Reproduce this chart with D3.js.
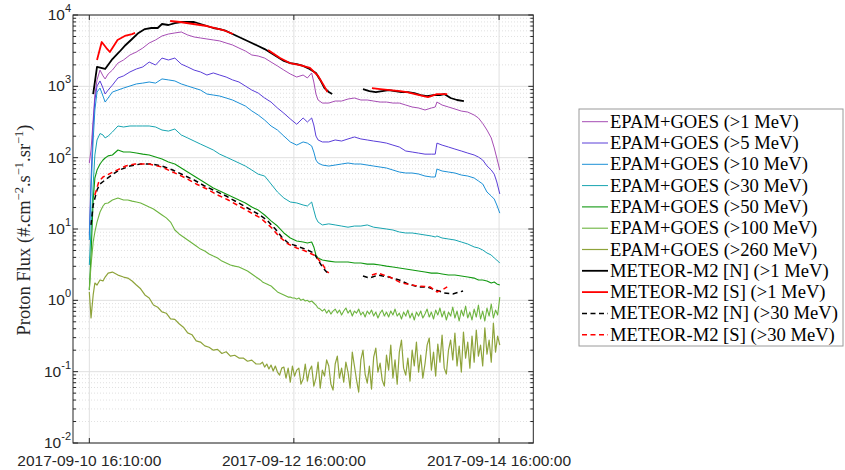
<!DOCTYPE html>
<html><head><meta charset="utf-8">
<script src="https://cdn.jsdelivr.net/npm/d3@7"></script>
<style>
body{margin:0;background:#fff;}
svg{display:block;}
</style></head><body>
<svg id="chart" width="845" height="470"></svg>
<script>
// ---------------- DATA (hours after 2017-09-10 16:10:00) ----------------
const hoursMain = [0,0.4,0.9,1.3,1.8,2.5,3.2,3.7,4.4,5.4,6.7,8,9.5,11,12.5,14,15.5,17,18.5,20,21.5,23,24.5,26,27.5,29,30.5,32,33.5,35,36.5,38,39.5,41,42.5,44,45.5,47,48.5,50,51,52,52.5,53,53.5,54.5,56,57.5,59,60.5,62,63.5,65,66.5,68,69.5,71,72.5,74,75.5,77,78.5,80,80.9,81.3,82.5,84,85.5,87,88.5,90,91,92,93,94,94.7,95.3,96];

const flux1MeV = [84,128,337,755,1230,1690,1400,1270,1490,1690,2120,2340,2750,3030,3440,4050,4470,5080,5410,5600,5780,5250,4920,4760,4610,4470,4330,4050,3800,3440,3130,2750,2660,2490,2190,1930,1690,1490,1350,1440,1310,1540,1150,780,643,583,583,622,622,664,686,643,643,622,602,602,583,583,547,513,497,466,497,513,602,547,513,481,450,436,396,360,302,244,189,137,99,67];

const flux5MeV = [8.24,48.6,287,643,1010,1190,946,780,887,1040,1310,1400,1590,1750,1870,2190,1990,2490,2340,2490,2050,1870,1690,1590,1440,1540,1440,1350,1230,1150,1010,887,805,686,602,497,420,349,294,360,316,360,287,201,177,166,166,177,171,183,195,183,177,171,166,160,150,141,124,120,116,112,112,112,160,150,141,132,124,116,109,102,92.7,76.6,67.1,58.7,45.6,31.0];

const flux10MeV = [7.01,35.2,177,466,832,946,731,602,686,832,887,946,1010,1080,1110,1150,1110,1270,1230,1190,1080,1010,946,887,780,755,731,686,643,583,530,452,396,337,278,244,201,166,150,166,160,146,120,92.7,84.1,78.8,76.3,78.8,81.5,84.1,81.5,81.5,78.8,76.3,73.9,71.6,67.1,62.9,60.9,60.9,59.0,55.3,53.6,53.6,69.3,65.0,62.9,60.9,57.1,55.3,51.9,47.1,42.8,33.0,29.0,26.3,21.7,16.7];

const flux30MeV = [3.13,9.68,41.4,109,177,218,208,189,201,229,278,269,278,278,278,278,269,244,236,252,208,189,171,155,141,128,112,102,92.7,84.1,76.3,67.1,58.7,55.3,42.8,33.0,27.2,23.9,23.2,21.7,21.0,23.9,18.4,14.3,12.5,11.4,11.8,11.4,11.0,10.6,11.0,11.0,11.4,10.6,10.3,10.0,9.68,9.08,8.79,8.79,8.52,8.24,7.98,7.73,7.98,7.48,7.24,7.01,6.57,6.16,5.60,5.42,5.08,4.61,4.32,3.92,3.67,3.33];

const flux50MeV = [1.40,4.32,25.5,51.9,67.1,81.5,92.7,98.9,106,109,128,120,120,116,112,109,102,95.9,86.9,81.5,71.6,62.9,55.3,48.6,42.8,37.6,34.1,31.0,28.2,25.5,23.2,20.3,18.4,15.7,13.0,11.0,8.79,7.48,6.79,6.57,6.36,6.57,5.60,4.32,3.92,3.67,3.55,3.44,3.44,3.44,3.33,3.33,3.22,3.22,3.13,3.02,2.93,2.84,2.75,2.66,2.58,2.49,2.41,2.41,2.41,2.34,2.26,2.26,2.19,2.12,2.05,1.93,1.93,1.87,1.75,1.81,1.70,1.64];

const hoursFine = [0,0.4,0.9,1.3,1.8,2.5,3.2,3.7,4.4,5.4,6.7,8,9,10,11,12,13,14,15,16,17,18,19,20,21,22,23,24,25,26,27,28,29,30,31,32,33,34,35,36,37,38,39,
40,40.5,41,41.5,42,42.5,43,43.5,44,44.5,45,45.5,46,46.5,47,47.5,48,48.5,49,49.5,50,50.5,51,51.5,52,52.5,53,53.5,54,54.5,55,55.5,56,56.5,57,57.5,58,58.5,59,59.5,60,60.5,61,61.5,62,62.5,63,63.5,64,64.5,65,65.5,66,66.5,67,67.5,68,68.5,69,69.5,70,70.5,71,71.5,72,72.5,73,73.5,74,74.5,75,75.5,76,76.5,77,77.5,78,78.5,79,79.5,80,80.5,81,81.5,82,82.5,83,83.5,84,84.5,85,85.5,86,86.5,87,87.5,88,88.5,89,89.5,90,90.5,91,91.5,92,92.5,93,93.5,94,94.5,95,95.5,96];

const flux100MeV = [1.40,3.13,6.57,9.08,12.5,17.3,21.0,22.8,23.2,25.5,27.2,25.5,25.5,24.6,23.9,23.2,21.7,20.3,19.1,17.3,15.7,14.3,12.5,9.68,8.52,7.73,7.01,6.36,5.77,5.23,4.92,4.47,4.17,3.92,3.55,3.33,3.13,3.02,2.93,2.75,2.58,2.34,2.12,
1.93,1.81,1.75,1.70,1.64,1.59,1.49,1.40,1.31,1.27,1.23,1.19,1.15,1.11,1.11,1.08,1.08,1.04,1.08,1.00,1.04,0.978,1.00,0.947,0.978,0.917,0.859,0.780,0.755,0.708,0.755,0.663,0.731,0.642,0.708,0.755,0.663,0.731,0.622,0.708,0.780,0.663,0.731,0.602,0.708,0.663,0.755,0.622,0.685,0.583,0.708,0.642,0.731,0.602,0.685,0.565,0.663,0.731,0.602,0.685,0.583,0.708,0.622,0.755,0.602,0.663,0.547,0.685,0.602,0.731,0.565,0.663,0.530,0.685,0.602,0.708,0.565,0.642,0.755,0.583,0.685,0.547,0.731,0.622,0.780,0.583,0.708,0.530,0.685,0.602,0.805,0.565,0.708,0.513,0.731,0.602,0.832,0.565,0.685,0.530,0.755,0.583,0.859,0.547,0.708,0.513,0.780,0.602,0.888,0.565,0.731,0.622,1.11];

const flux260MeV = [1.31,0.565,1.19,1.75,1.64,1.93,1.87,2.12,2.41,2.49,2.26,2.12,2.05,1.87,1.64,1.45,1.19,1.08,0.86,0.80,0.69,0.66,0.55,0.54,0.47,0.42,0.35,0.33,0.27,0.26,0.23,0.22,0.20,0.205,0.18,0.19,0.165,0.17,0.155,0.155,0.14,0.145,0.128,
0.128,0.136,0.116,0.128,0.109,0.124,0.102,0.120,0.0987,0.0896,0.112,0.116,0.0813,0.112,0.0714,0.120,0.0868,0.105,0.112,0.0669,0.0787,0.128,0.0738,0.105,0.120,0.0628,0.0813,0.136,0.0589,0.105,
0.0868,0.146,0.120,0.0669,0.0552,0.128,0.165,0.0813,0.112,0.0714,0.136,0.0987,0.0589,0.188,0.120,0.0762,0.0518,0.146,0.201,0.0926,0.0691,0.120,0.0570,0.160,0.214,0.0987,0.132,0.0762,0.0628,0.171,0.105,0.236,0.0813,0.146,0.0669,0.188,0.278,0.112,0.0896,0.155,0.0738,0.201,0.120,0.260,0.0987,0.171,0.0813,0.128,0.236,0.296,0.105,0.188,0.0868,0.244,0.136,0.326,0.112,0.0926,0.201,0.278,0.146,0.348,0.120,0.229,0.0987,0.360,0.155,0.260,0.112,0.316,0.136,0.384,0.165,0.236,0.120,0.410,0.176,0.278,0.136,0.481,0.188,0.316,0.236];

// METEOR-M2 (null = data gap)
const hoursN1 = [0.9,1.8,3.7,5.4,7,8.5,10,11.5,13,14.5,16,17,18.5,20,21.5,23,24.5,26,27.5,29,30.5,32,33.5,35,36.5,38,39.5,41,42.5,44,45.5,47,48.5,50,51.5,53,54,55,56,56.8,60,64,65.5,67,68.5,70,71.5,73,74.5,76,77.5,79,80.5,82,83,84.5,86,87.6];
const fluxN1 = [780,1870,1750,2410,3030,3800,4610,5600,6360,6570,6570,7480,7240,7720,7980,7980,7980,7480,7010,6570,6360,5970,5410,4920,4470,4050,3670,3330,2930,2580,2270,2120,2050,1930,1750,1540,1230,946,832,780,null,916,859,832,859,887,859,832,832,805,755,731,755,755,780,686,643,622];

const hoursS1 = [1.8,2.9,4.0,4.8,6.6,8.3,10,10.7,14,18.9,21.2,24.3,27.5,31.3,33.6,38,41.8,44.6,46.9,49.3,51.6,53.5,54.8,55.7,60,66.1,68.0,70.3,72.7,74.3,76.2,79.2,81.3,83.7];
const fluxS1 = [2340,4180,3440,3030,4470,5080,5410,5600,null,8240,7980,7480,7010,6160,5410,null,3230,2490,2120,1990,1810,1400,1040,832,null,946,916,887,859,832,780,708,780,780];

const hoursN30 = [0.4,0.9,1.8,2.5,4,5.5,7,9.5,12,14.5,17,19.5,22,24.5,27,29.5,32,34.5,37,39.5,41.5,43.5,45,46.5,48.5,50.5,52.5,53.5,54.5,55.5,56.5,60,64,65.5,67.5,70,72.5,74.5,77,79,81,83,85,87.4];
const fluxN30 = [11.4,21.7,35.2,42.8,50.2,58.7,67.1,76.3,81.5,81.5,76.3,67.1,57.1,48.6,40.0,34.1,29.0,23.9,19.7,16.2,13.4,10.0,7.73,6.36,5.77,5.23,4.61,3.67,2.93,2.49,2.41,null,2.19,2.05,2.26,2.12,1.93,1.70,1.54,1.54,1.40,1.27,1.23,1.35];

const hoursS30 = [1.3,2.2,3.2,5.5,8.5,10.7,14,17,19.5,22.5,25,27.5,30,32.5,35,37.5,40,42.5,44.5,46.5,48.5,50.5,52.5,53.5,54.5,55.5,56,60,66.1,67.5,70.3,73,76.7,79.7,81.3,82.5,83.7];
const fluxS30 = [30.0,45.6,53.6,62.9,76.3,81.5,81.5,73.9,62.9,51.9,42.8,36.4,30.0,25.5,21.0,17.3,14.3,10.6,7.73,6.16,5.42,4.92,4.32,3.79,3.22,2.58,2.41,null,2.26,2.41,2.12,1.75,1.59,1.54,1.31,1.40,1.54];

const seriesLabels = ["EPAM+GOES (>1 MeV)","EPAM+GOES (>5 MeV)","EPAM+GOES (>10 MeV)","EPAM+GOES (>30 MeV)","EPAM+GOES (>50 MeV)","EPAM+GOES (>100 MeV)","EPAM+GOES (>260 MeV)","METEOR-M2 [N] (>1 MeV)","METEOR-M2 [S] (>1 MeV)","METEOR-M2 [N] (>30 MeV)","METEOR-M2 [S] (>30 MeV)"];
const xTickLabels = ["2017-09-10 16:10:00","2017-09-12 16:00:00","2017-09-14 16:00:00"];
const yTickExponents = [-2,-1,0,1,2,3,4];
const startTime = "2017-09-10 16:10:00";
const xDomain = ["2017-09-10 12:21:00","2017-09-15 00:00:00"];

// ---------------- CHART ----------------
const parse = d3.timeParse("%Y-%m-%d %H:%M:%S");
const t0 = parse(startTime).getTime();
const toDate = h => new Date(t0 + h * 3600e3);

const L = 73, R = 533.3, T = 15, B = 443;
const x = d3.scaleTime().domain(xDomain.map(parse)).range([L, R]);
const y = d3.scaleLog().domain([1e-2, 1e4]).range([B, T]);

const svg = d3.select("#chart");
const axisColor = "#262626";

// grid
const gGrid = svg.append("g");
const minorVals = [];
for (let e = -2; e < 4; e++) for (let k = 2; k <= 9; k++) minorVals.push(k * Math.pow(10, e));
gGrid.selectAll(".minor").data(minorVals).enter().append("line")
  .attr("x1", L).attr("x2", R).attr("y1", d => y(d)).attr("y2", d => y(d))
  .attr("stroke", "#d9d9d9").attr("stroke-width", 0.8).attr("stroke-dasharray", "1,2");
gGrid.selectAll(".major").data(yTickExponents).enter().append("line")
  .attr("x1", L).attr("x2", R).attr("y1", d => y(Math.pow(10, d))).attr("y2", d => y(Math.pow(10, d)))
  .attr("stroke", "#e0e0e0").attr("stroke-width", 1);
gGrid.selectAll(".vmajor").data(xTickLabels).enter().append("line")
  .attr("x1", d => x(parse(d))).attr("x2", d => x(parse(d))).attr("y1", T).attr("y2", B)
  .attr("stroke", "#e0e0e0").attr("stroke-width", 1);

// clip
svg.append("defs").append("clipPath").attr("id", "clip")
  .append("rect").attr("x", L).attr("y", T).attr("width", R - L).attr("height", B - T);

const series = [
  {h: hoursMain, v: flux1MeV, color: "#a64db4", w: 1, dash: null},
  {h: hoursMain, v: flux5MeV, color: "#5a3ed8", w: 1, dash: null},
  {h: hoursMain, v: flux10MeV, color: "#1c90d6", w: 1, dash: null},
  {h: hoursMain, v: flux30MeV, color: "#17a4b0", w: 1, dash: null},
  {h: hoursMain, v: flux50MeV, color: "#109810", w: 1.1, dash: null},
  {h: hoursFine, v: flux100MeV, color: "#6db43f", w: 1.1, dash: null},
  {h: hoursFine, v: flux260MeV, color: "#8ea33a", w: 1.2, dash: null},
  {h: hoursN1, v: fluxN1, color: "#000000", w: 1.8, dash: null},
  {h: hoursS1, v: fluxS1, color: "#ff0000", w: 1.8, dash: null},
  {h: hoursN30, v: fluxN30, color: "#000000", w: 1.5, dash: "5,3.5"},
  {h: hoursS30, v: fluxS30, color: "#ff0000", w: 1.5, dash: "5,3.5"}
];

const line = d3.line().defined(d => d.v != null).x(d => x(toDate(d.h))).y(d => y(d.v));
const gLines = svg.append("g").attr("clip-path", "url(#clip)");
series.forEach(s => {
  const pts = s.h.map((h, i) => ({h: h, v: s.v[i]}));
  gLines.append("path").datum(pts).attr("d", line)
    .attr("fill", "none").attr("stroke", s.color).attr("stroke-width", s.w)
    .attr("stroke-linejoin", "round")
    .attr("stroke-dasharray", s.dash);
});

// box
svg.append("rect").attr("x", L).attr("y", T).attr("width", R - L).attr("height", B - T)
  .attr("fill", "none").attr("stroke", axisColor).attr("stroke-width", 1);

// ticks
const gT = svg.append("g").attr("stroke", axisColor).attr("stroke-width", 1);
yTickExponents.forEach(e => {
  const yy = y(Math.pow(10, e));
  gT.append("line").attr("x1", L).attr("x2", L + 5).attr("y1", yy).attr("y2", yy);
  gT.append("line").attr("x1", R).attr("x2", R - 5).attr("y1", yy).attr("y2", yy);
});
minorVals.forEach(v => {
  const yy = y(v);
  gT.append("line").attr("x1", L).attr("x2", L + 3).attr("y1", yy).attr("y2", yy);
  gT.append("line").attr("x1", R).attr("x2", R - 3).attr("y1", yy).attr("y2", yy);
});
xTickLabels.forEach(d => {
  const xx = x(parse(d));
  gT.append("line").attr("x1", xx).attr("x2", xx).attr("y1", B).attr("y2", B - 5);
  gT.append("line").attr("x1", xx).attr("x2", xx).attr("y1", T).attr("y2", T + 5);
});

// tick labels
const tickFont = "'Liberation Sans', Arial, Helvetica, sans-serif";
yTickExponents.forEach(e => {
  const t = svg.append("text").attr("x", 71).attr("y", y(Math.pow(10, e)) + 5)
    .attr("text-anchor", "end").attr("font-family", tickFont).attr("font-size", 15.5).attr("fill", axisColor);
  t.append("tspan").text("10");
  t.append("tspan").attr("dy", -8).attr("font-size", 11).text(e);
});
xTickLabels.forEach(d => {
  svg.append("text").attr("x", x(parse(d))).attr("y", 465.5).attr("text-anchor", "middle")
    .attr("font-family", tickFont).attr("font-size", 15.5).attr("fill", axisColor).text(d);
});

// y label
const serif = "'Liberation Serif', 'Times New Roman', serif";
const yl = svg.append("text").attr("transform", "translate(30,230) rotate(-90)")
  .attr("text-anchor", "middle").attr("font-family", serif).attr("font-size", 18.5)
  .attr("fill", axisColor);
yl.append("tspan").text("Proton Flux (#.cm");
yl.append("tspan").attr("dy", -7).attr("font-size", 12.5).text("\u22122");
yl.append("tspan").attr("dy", 7).text(".s");
yl.append("tspan").attr("dy", -7).attr("font-size", 12.5).text("\u22121");
yl.append("tspan").attr("dy", 7).text(".sr");
yl.append("tspan").attr("dy", -7).attr("font-size", 12.5).text("\u22121");
yl.append("tspan").attr("dy", 7).text(")");

// legend
const lg = svg.append("g");
lg.append("rect").attr("x", 579).attr("y", 109).attr("width", 264).attr("height", 237)
  .attr("fill", "#fff").attr("stroke", "#9a9a9a").attr("stroke-width", 1);
seriesLabels.forEach((lab, i) => {
  const s = series[i];
  const yy = 121.7 + i * 21.3;
  lg.append("line").attr("x1", 582).attr("x2", 608).attr("y1", yy).attr("y2", yy)
    .attr("stroke", s.color).attr("stroke-width", s.w).attr("stroke-dasharray", s.dash);
  lg.append("text").attr("x", 610).attr("y", yy + 6).attr("font-family", serif)
    .attr("font-size", 18.6).attr("fill", "#000").text(lab);
});
</script>
</body></html>
